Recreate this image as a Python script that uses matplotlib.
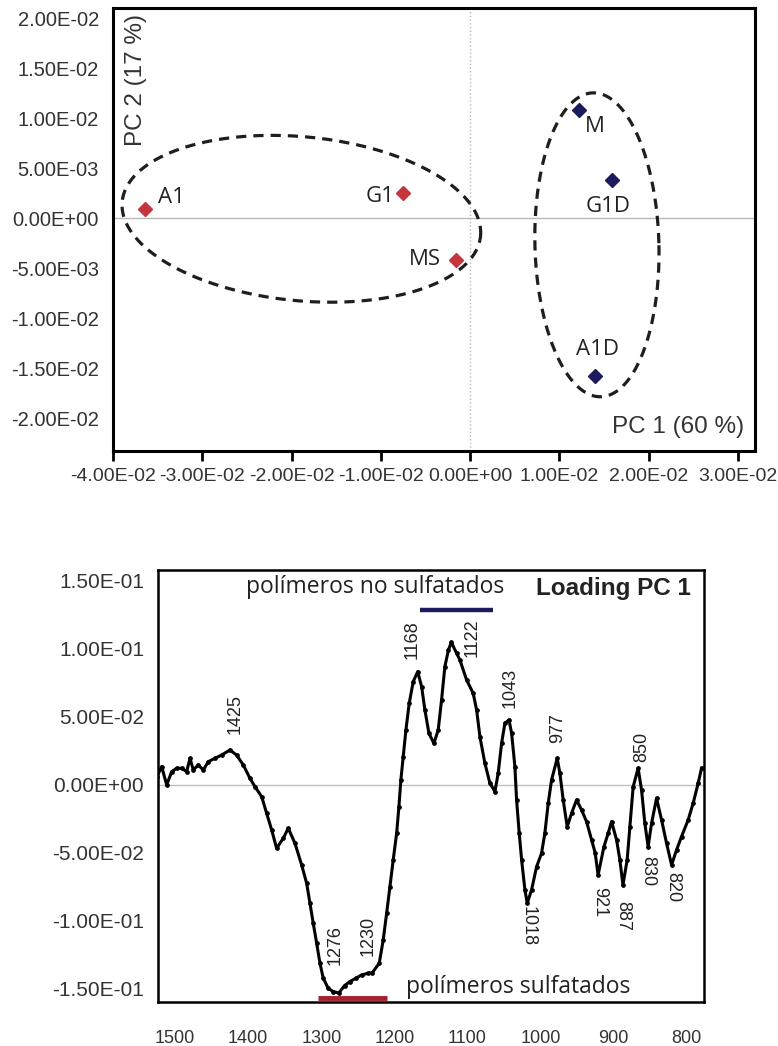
import numpy as np
import matplotlib
matplotlib.use("Agg")
import matplotlib.pyplot as plt

# scores PCA (PC1 vs PC2)
samples = ["A1", "G1", "MS", "M", "G1D", "A1D"]
pc1 = [-0.0364, -0.0075, -0.0016, 0.0122, 0.0159, 0.0140]
pc2 = [0.00095, 0.00255, -0.00415, 0.01085, 0.00385, -0.01575]
group = ["s", "s", "s", "d", "d", "d"]
score_xticks = [-0.04, -0.03, -0.02, -0.01, 0.0, 0.01, 0.02, 0.03]
score_yticks = [-0.02, -0.015, -0.01, -0.005, 0.0, 0.005, 0.01, 0.015, 0.02]

# loading PC 1
wavenumber = [1525.3, 1518.5, 1511.6, 1504.8, 1497.9, 1491.1, 1484.3, 1479.7, 1475.2, 1468.4,
              1461.5, 1454.7, 1445.5, 1436.4, 1425.0, 1415.9, 1406.8, 1397.6, 1390.8, 1381.6,
              1374.8, 1367.9, 1361.1, 1352.0, 1345.2, 1336.0, 1326.9, 1320.0, 1315.5, 1311.0,
              1306.3, 1301.8, 1297.3, 1290.5, 1283.6, 1276.0, 1268.0, 1260.8, 1252.0, 1244.7,
              1236.0, 1230.0, 1220.6, 1215.2, 1210.5, 1206.0, 1201.5, 1196.8, 1193.7, 1191.0,
              1187.8, 1184.1, 1179.6, 1174.1, 1168.0, 1162.6, 1158.1, 1152.6, 1145.8, 1139.9,
              1135.3, 1130.8, 1126.0, 1122.0, 1114.7, 1110.2, 1101.0, 1092.0, 1087.3, 1082.8,
              1076.0, 1069.1, 1062.3, 1057.8, 1053.1, 1048.6, 1043.0, 1039.4, 1034.9, 1032.6,
              1029.0, 1025.7, 1021.2, 1018.0, 1012.1, 1005.2, 998.4, 993.9, 989.3, 984.7,
              977.0, 973.3, 968.8, 963.3, 957.3, 950.5, 943.6, 936.8, 929.9, 925.0,
              921.0, 913.0, 907.2, 902.6, 895.7, 891.2, 887.0, 881.2, 877.5, 873.0,
              866.2, 861.5, 857.0, 852.5, 847.8, 841.0, 834.1, 827.3, 820.4, 813.6,
              806.8, 797.7, 790.9, 784.0, 779.4]
loading = [0.0057, 0.0135, 0.0000, 0.0098, 0.0123, 0.0123, 0.0098, 0.0196, 0.0110, 0.0147,
           0.0110, 0.0171, 0.0196, 0.0220, 0.0257, 0.0220, 0.0147, 0.0049, -0.0012, -0.0086,
           -0.0208, -0.0331, -0.0466, -0.0392, -0.0318, -0.0429, -0.0588, -0.0723, -0.0870, -0.1017,
           -0.1164, -0.1311, -0.1421, -0.1495, -0.1520, -0.1530, -0.1475, -0.1446, -0.1420, -0.1397,
           -0.1385, -0.1380, -0.1311, -0.1140, -0.0943, -0.0748, -0.0551, -0.0355, -0.0160, 0.0037,
           0.0208, 0.0404, 0.0601, 0.0760, 0.0833, 0.0723, 0.0551, 0.0380, 0.0306, 0.0404,
           0.0625, 0.0870, 0.0990, 0.1050, 0.0968, 0.0919, 0.0772, 0.0674, 0.0551, 0.0355,
           0.0160, 0.0013, -0.0049, 0.0086, 0.0307, 0.0454, 0.0478, 0.0380, 0.0135, -0.0110,
           -0.0355, -0.0551, -0.0772, -0.0870, -0.0772, -0.0601, -0.0502, -0.0355, -0.0135, 0.0037,
           0.0196, 0.0086, -0.0110, -0.0307, -0.0208, -0.0110, -0.0184, -0.0270, -0.0404, -0.0500,
           -0.0662, -0.0454, -0.0355, -0.0270, -0.0404, -0.0551, -0.0735, -0.0551, -0.0307, -0.0013,
           0.0123, -0.0037, -0.0282, -0.0454, -0.0282, -0.0098, -0.0257, -0.0429, -0.0588, -0.0478,
           -0.0380, -0.0257, -0.0135, 0.0013, 0.0123]
load_xticks = [1500, 1400, 1300, 1200, 1100, 1000, 900, 800]
load_yticks = [-0.15, -0.1, -0.05, 0.0, 0.05, 0.1, 0.15]

# peak labels: text, x, y, rotation
peak_text = ["1425", "1168", "1122", "1043", "977", "850",
             "1276", "1230", "1018", "921", "887", "830", "820"]
peak_x = [1418, 1176, 1094, 1042, 977, 861, 1281, 1236, 1017, 919, 887, 853, 819]
peak_y = [0.052, 0.107, 0.108, 0.071, 0.042, 0.028,
          -0.118, -0.111, -0.104, -0.086, -0.096, -0.063, -0.075]
peak_rot = [90, 90, 90, 90, 90, 90, 90, 90, 270, 270, 270, 270, 270]

red = "#c4363b"
navy = "#1b1b5e"
tick_font = "Liberation Sans"
label_font = "Open Sans"


def sci(v):
    return f"{round(v, 6) + 0.0:.2E}"


fig = plt.figure(figsize=(7.78, 10.46), dpi=100)

# ---------------- scores ----------------
ax1 = fig.add_axes([0.1452, 0.5688, 0.8252, 0.4235])
ax1.set_xlim(-0.04, 0.0319)
ax1.set_ylim(-0.02325, 0.021)
ax1.axhline(0, color="#b8b8b8", lw=1, zorder=0)
ax1.axvline(0, color="#b8b8b8", lw=1, ls=":", zorder=0)

for i, name in enumerate(samples):
    c = red if group[i] == "s" else navy
    ax1.plot(pc1[i], pc2[i], marker="D", ms=7, color=c, ls="none", zorder=3)

offsets = {"A1": (9, 8, "left"), "G1": (-6, -3, "right"), "MS": (-11, 0, "right"),
           "M": (4, -12, "left"), "G1D": (-3, -19, "center"), "A1D": (2, 19, "center")}
for i, name in enumerate(samples):
    dx, dy, ha = offsets[name]
    ax1.annotate(name, (pc1[i], pc2[i]), xytext=(dx, dy), textcoords="offset points",
                 ha=ha, va="center", fontsize=16, family=label_font, color="#222222")


def dashed_ellipse(ax, cx, cy, a_px, b_px, ang):
    # outline built in screen pixels so it keeps its shape on unequal axis scales
    t = np.linspace(0, 2 * np.pi, 300)
    u = a_px * np.cos(t)
    v = b_px * np.sin(t)
    r = np.radians(ang)
    px = u * np.cos(r) - v * np.sin(r)
    py = u * np.sin(r) + v * np.cos(r)
    c0 = ax.transData.transform((cx, cy))
    pts = ax.transData.inverted().transform(np.column_stack([c0[0] + px, c0[1] + py]))
    ax.plot(pts[:, 0], pts[:, 1], color="#1e1e1e", lw=2.3, ls=(0, (3.2, 2.2)), zorder=2)


dashed_ellipse(ax1, -0.0189, -0.00005, 180, 82, -5.5)
dashed_ellipse(ax1, 0.0142, -0.00265, 62, 152, 1.5)

ax1.set_xticks(score_xticks)
ax1.set_xticklabels([sci(v) for v in score_xticks])
ax1.set_yticks(score_yticks)
ax1.set_yticklabels([sci(v) for v in score_yticks])
ax1.tick_params(axis="x", length=7, width=2, pad=5, labelsize=14)
ax1.tick_params(axis="y", length=0, pad=10, labelsize=14.5)
for lab in ax1.get_xticklabels() + ax1.get_yticklabels():
    lab.set_family(tick_font)
    lab.set_color("#333333")
for s in ax1.spines.values():
    s.set_linewidth(2.2)

ax1.text(0.036, 0.837, "PC 2 (17 %)", transform=ax1.transAxes, rotation=90,
         ha="center", va="center", fontsize=17.5, family=tick_font, color="#333333")
ax1.text(0.88, 0.054, "PC 1 (60 %)", transform=ax1.transAxes,
         ha="center", va="center", fontsize=17.5, family=tick_font, color="#333333")

# ---------------- loading PC 1 ----------------
ax2 = fig.add_axes([0.2031, 0.0421, 0.7018, 0.413])
ax2.set_xlim(1523.5, 776)
ax2.set_ylim(-0.1596, 0.1581)
ax2.axhline(0, color="#c0c0c0", lw=1, zorder=0)
ax2.plot(wavenumber, loading, color="black", lw=2.2, marker="o", ms=2.4, zorder=3)

for t, x, y, r in zip(peak_text, peak_x, peak_y, peak_rot):
    ax2.text(x, y, t, rotation=r, ha="center", va="center", fontsize=13,
             family=tick_font, color="#222222")

ax2.plot([1165, 1065], [0.1287, 0.1287], color=navy, lw=3.2, solid_capstyle="butt")
ax2.plot([1305, 1210], [-0.1566, -0.1566], color="#a3202c", lw=3.5, solid_capstyle="butt")
ax2.text(0.397, 0.961, "polímeros no sulfatados", transform=ax2.transAxes,
         ha="center", va="center", fontsize=16.5, family=label_font, color="#222222")
ax2.text(0.659, 0.035, "polímeros sulfatados", transform=ax2.transAxes,
         ha="center", va="center", fontsize=16.5, family=label_font, color="#222222")
ax2.text(0.835, 0.958, "Loading PC 1", transform=ax2.transAxes, fontweight="bold",
         ha="center", va="center", fontsize=17.5, family=tick_font, color="#222222")

ax2.set_xticks(load_xticks)
ax2.set_xticklabels([str(v) for v in load_xticks])
ax2.set_yticks(load_yticks)
ax2.set_yticklabels([sci(v) for v in load_yticks])
ax2.tick_params(axis="x", length=0, pad=20, labelsize=13)
ax2.tick_params(axis="y", length=0, pad=10, labelsize=15)
for lab in ax2.get_xticklabels() + ax2.get_yticklabels():
    lab.set_family(tick_font)
    lab.set_color("#333333")
for s in ax2.spines.values():
    s.set_linewidth(1.8)

fig.savefig("out.png", dpi=100)
